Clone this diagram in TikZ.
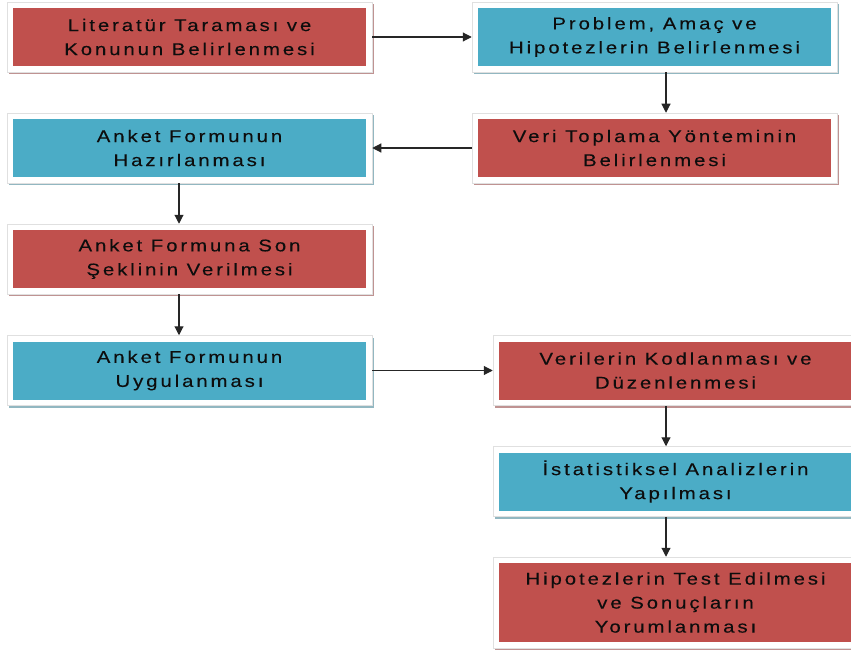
\documentclass[tikz,border=0pt]{standalone}
\usepackage{fontspec}
\setmainfont{Liberation Sans}[LetterSpace=17,FakeStretch=1.2,FakeBold=0.15]
\usetikzlibrary{arrows.meta}
\definecolor{cred}{HTML}{C0504D}
\definecolor{cblue}{HTML}{4BACC6}
\begin{document}
\begin{tikzpicture}[x=1pt,y=-1pt,
  box/.style={fill=white, draw=black!12, line width=0.5pt,
    minimum width=365pt, minimum height=70pt, inner sep=0pt, align=center,
    font=\fontsize{17}{24}\selectfont, text=black!95,
    preaction={fill=#1!55!gray!70, transform canvas={shift={(2pt,-2pt)}}},
    path picture={\fill[#1] ([shift={(6pt,6pt)}]path picture bounding box.south west) rectangle ([shift={(-6pt,-6pt)}]path picture bounding box.north east);}},
  arr/.style={draw=black!85, line width=1.1pt, -{Triangle[length=9pt,width=9pt]}}]
\useasboundingbox (0,0) rectangle (851,650);
\node[box=cred]  (n1) at (189.5,37)  {Literatür Taraması ve\\Konunun Belirlenmesi};
\node[box=cblue] (n2) at (654.5,37)  {Problem, Amaç ve\\Hipotezlerin Belirlenmesi};
\node[box=cred]  (n3) at (654.5,148) {Veri Toplama Yönteminin\\Belirlenmesi};
\node[box=cblue] (n4) at (189.5,148) {Anket Formunun\\Hazırlanması};
\node[box=cred]  (n5) at (189.5,259) {Anket Formuna Son\\Şeklinin Verilmesi};
\node[box=cblue] (n6) at (189.5,370.5) {Anket Formunun\\Uygulanması};
\node[box=cred]  (n7) at (675.5,370.5) {Verilerin Kodlanması ve\\Düzenlenmesi};
\node[box=cblue] (n8) at (675.5,481.5) {İstatistiksel Analizlerin\\Yapılması};
\node[box=cred, minimum height=91pt] (n9) at (675.5,602.5) {Hipotezlerin Test Edilmesi\\ve Sonuçların\\Yorumlanması};
\draw[arr] (n1.east) -- (n2.west);
\draw[arr] ([xshift=11.5pt]n2.south) -- ([xshift=11.5pt]n3.north);
\draw[arr] (n3.west) -- (n4.east);
\draw[arr] ([xshift=-10.5pt]n4.south) -- ([xshift=-10.5pt]n5.north);
\draw[arr] ([xshift=-10.5pt]n5.south) -- ([xshift=-10.5pt]n6.north);
\draw[arr] (n6.east) -- (n7.west);
\draw[arr] ([xshift=-9.5pt]n7.south) -- ([xshift=-9.5pt]n8.north);
\draw[arr] ([xshift=-9.5pt]n8.south) -- ([xshift=-9.5pt]n9.north);
\end{tikzpicture}
\end{document}
